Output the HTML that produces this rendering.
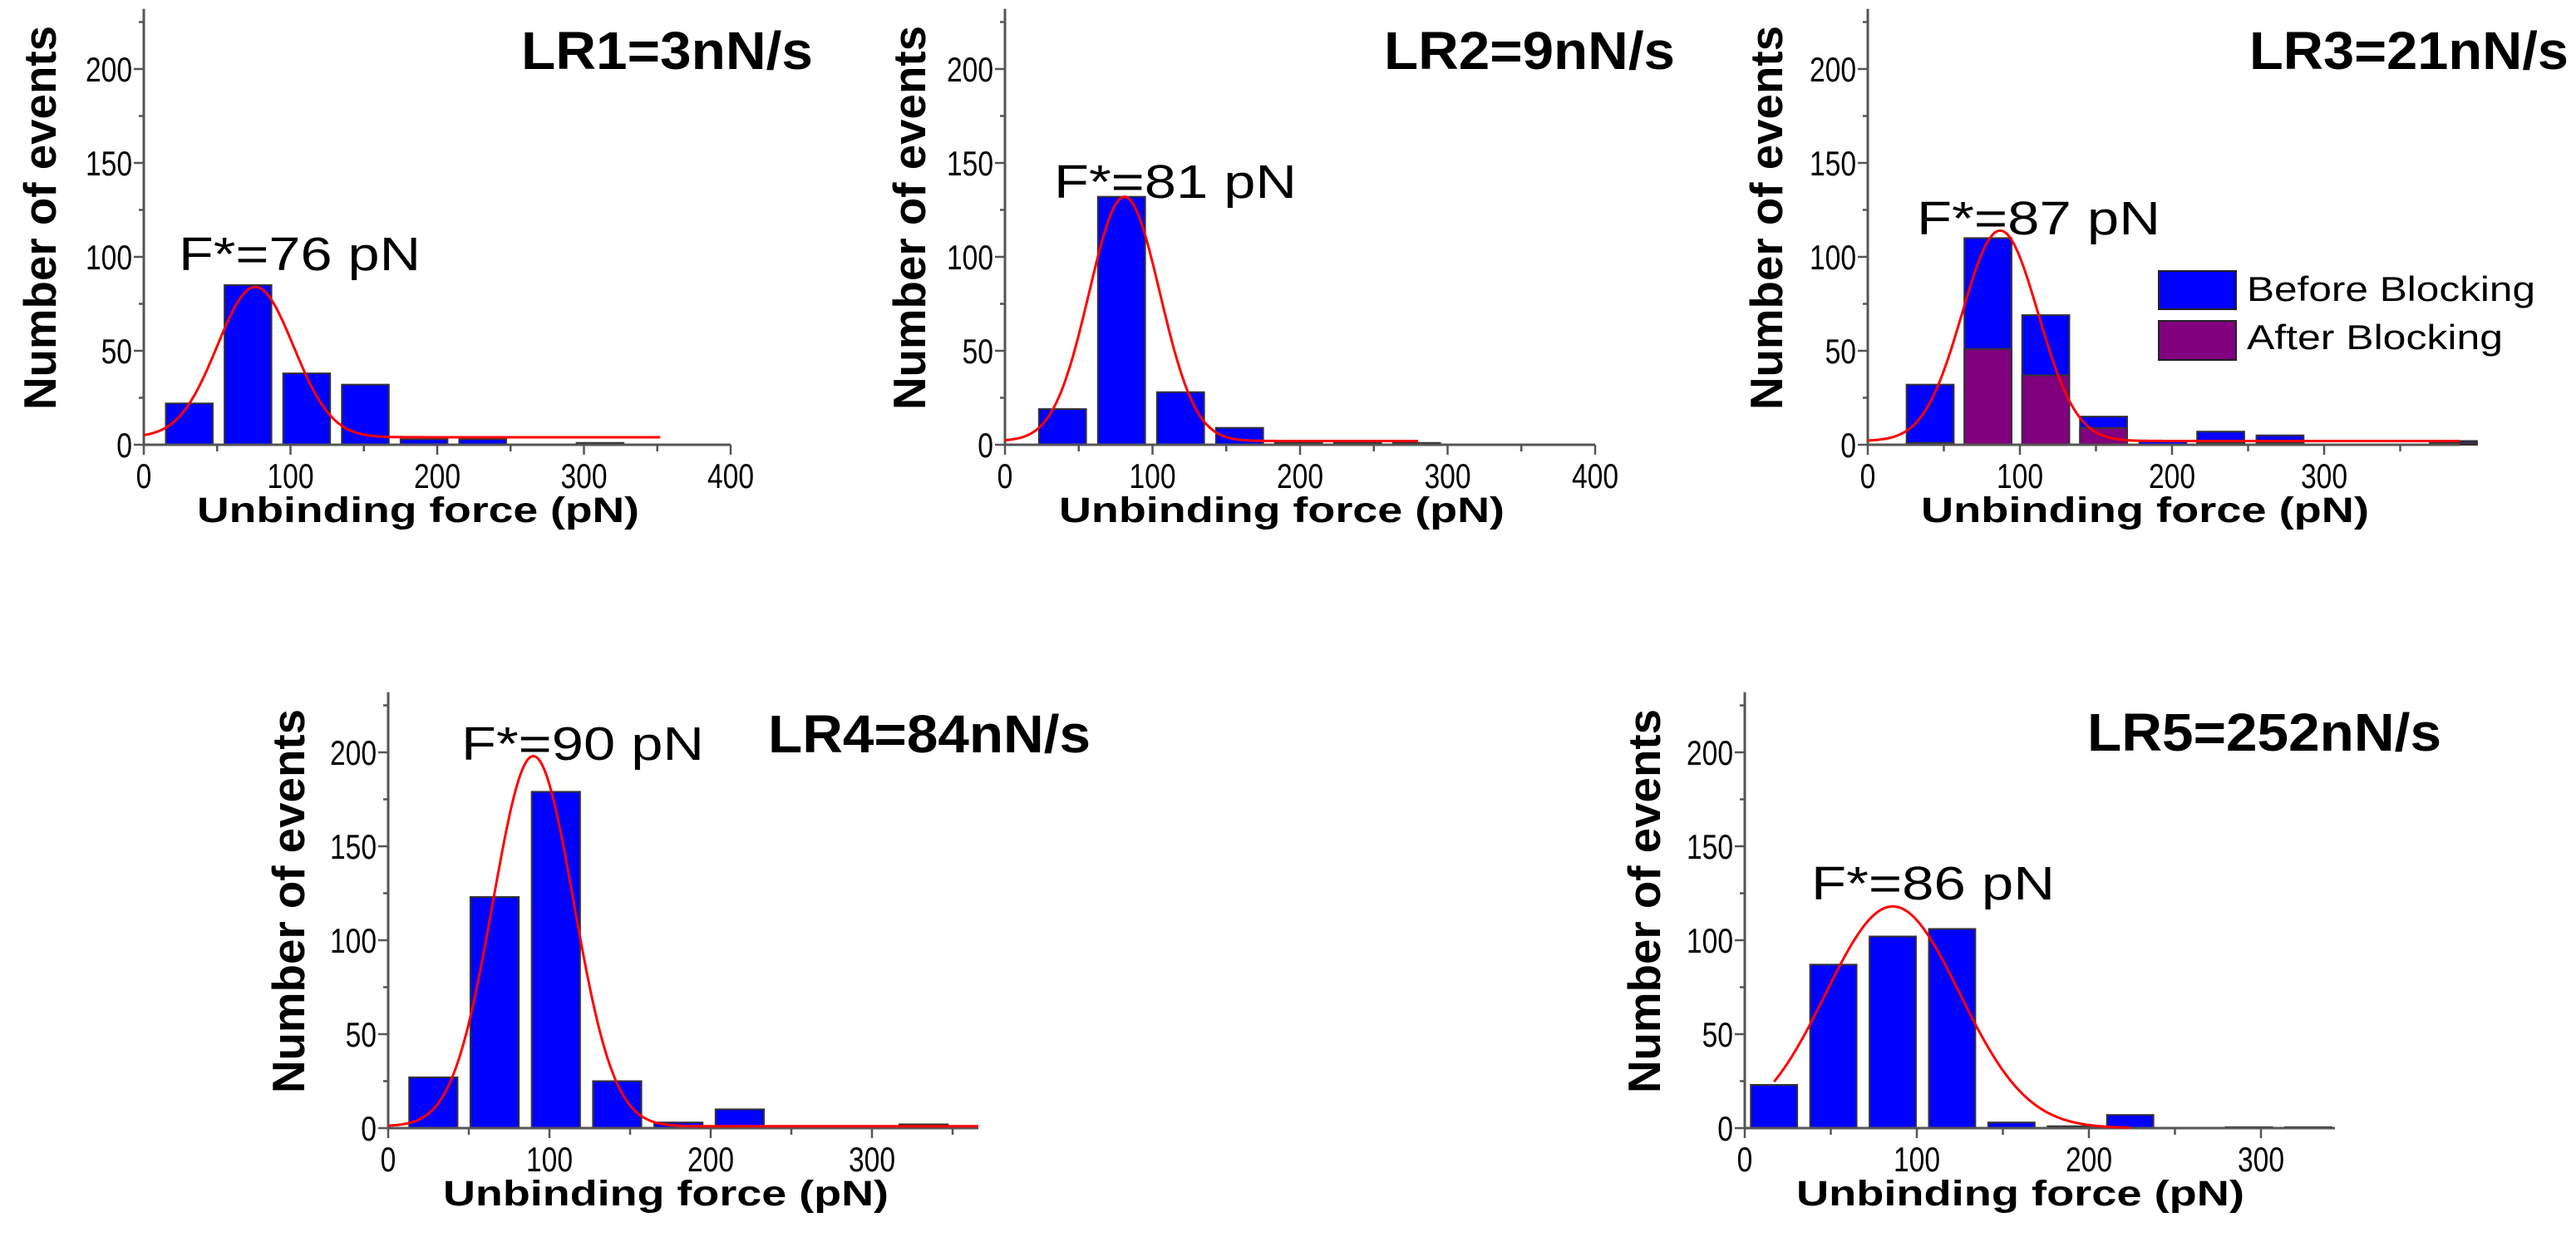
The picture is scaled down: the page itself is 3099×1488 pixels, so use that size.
<!DOCTYPE html>
<html><head><meta charset="utf-8"><style>
html,body{margin:0;padding:0;background:#fff;}
svg{display:block;}
text{font-family:"Liberation Sans",Arial,sans-serif;fill:#000;}
</style></head><body>
<svg id="fig" width="3099" height="1488" viewBox="0 0 3099 1488" xmlns="http://www.w3.org/2000/svg"></svg>
<script>
// ---- data ----
const lr1Centers=[31,71,111,151,191,231,271,311];
const lr1Counts=[22,85,38,32,3,3,0,1];
const lr2Centers=[39,79,119,159,199,239,279];
const lr2Counts=[19,132,28,9,1,1,1];
const lr3Centers=[41,79,117,155,194,232,271,309,347,385];
const lr3Before=[32,110,69,15,2,7,5,0,0,2];
const lr3After=[1,51,37,9,0,1,1,0,0,1];
const lr4Centers=[28,66,104,142,180,218,256,294,332];
const lr4Counts=[27,123,179,25,3,10,0,0,2];
const lr5Centers=[17,51.5,86,120.5,155,189.5,224,258.5,293,327.5];
const lr5Counts=[23,87,102,106,3,1,7,0,0.5,0.5];
// gaussian fit params: [center, amplitude, sigma, baseline, start, end]
const lr1Fit=[76,80,26,4,0,352];
const lr2Fit=[81,130,24,2,0,280];
const lr3Fit=[87,112,25,2,0,389];
const lr4Fit=[90,197,25,1,0,366];
const lr5Fit=[86,118,39,0,17,224];
const yTicks=[0,50,100,150,200];
const xTicks400=[0,100,200,300,400];
const xTicks300=[0,100,200,300];

const NS="http://www.w3.org/2000/svg";
const svg=document.getElementById('fig');
function mk(tag,attrs,parent,txt){const e=document.createElementNS(NS,tag);for(const k in attrs)e.setAttribute(k,attrs[k]);if(txt!==undefined)e.textContent=txt;(parent||svg).appendChild(e);return e;}

function panel(p){
  const g=mk('g',{});
  
  
  const X=v=>p.ox+v*p.sx, Y=v=>p.oy-v*2.26;
  const top=p.oy-232*2.26;
  const w=p.bw*p.sx;
  p.centers.forEach((c,i)=>{
    const v=p.counts[i]; if(v<=0)return;
    const r=mk('rect',{x:X(c)-w/2,y:Y(v),width:w,height:v*2.26,fill:'#0000ff',stroke:'#333','stroke-width':2},g);
    
    
    if(p.after&&p.after[i]>0){
      const a=p.after[i];
      const r2=mk('rect',{x:X(c)-w/2,y:Y(a),width:w,height:a*2.26,fill:'#800080',stroke:'#333','stroke-width':2},g);
      
      
    }
  });
  const ax=mk('path',{d:`M${p.ox},${top}V${p.oy}H${X(p.xmax)}`,fill:'none',stroke:'#555','stroke-width':3},g);
  
  
  for(let v=0;v<=225;v+=25){const maj=v%50===0;mk('line',{x1:p.ox-(maj?12:6),x2:p.ox,y1:Y(v),y2:Y(v),stroke:'#555','stroke-width':2.5},g);}
  yTicks.forEach(v=>{const t=mk('text',{x:0,y:0,'font-size':42,'text-anchor':'end',transform:`translate(${p.ox-14},${Y(v)+15}) scale(0.8,1)`},g,String(v));
    });
  for(let v=0;v<=p.xmax;v+=50){const maj=v%100===0;mk('line',{x1:X(v),x2:X(v),y1:p.oy,y2:p.oy+(maj?12:8),stroke:'#555','stroke-width':2.5},g);}
  p.xticks.forEach(v=>{const t=mk('text',{x:0,y:0,'font-size':42,'text-anchor':'middle',transform:`translate(${X(v)},${p.oy+52}) scale(0.8,1)`},g,String(v));
    });
  const f=p.fit;let d='';
  for(let x=f[4];x<=f[5];x+=1){const y=f[3]+f[1]*Math.exp(-((x-f[0])**2)/(2*f[2]*f[2]));d+=(d?'L':'M')+X(x).toFixed(1)+','+Y(y).toFixed(1);}
  const c=mk('path',{d:d,fill:'none',stroke:'#ff0000','stroke-width':3},g);
  
  
  const tt=mk('text',{x:p.title[1],y:p.title[3],'font-size':64,'font-weight':'bold',textLength:p.title[2]-p.title[1],lengthAdjust:'spacingAndGlyphs'},g,p.title[0]);
  
  const fl=mk('text',{x:p.fl[1],y:p.fl[3],'font-size':57,textLength:p.fl[2]-p.fl[1],lengthAdjust:'spacingAndGlyphs'},g,p.fl[0]);
  
  const yt=mk('text',{x:0,y:0,'font-size':55,'font-weight':'bold',textLength:462,lengthAdjust:'spacingAndGlyphs','text-anchor':'middle',transform:`translate(${p.yt[0]},${p.yt[1]}) rotate(-90)`},g,'Number of events');
  
  const xt=mk('text',{x:p.xt[0],y:p.xt[2],'font-size':43,'font-weight':'bold',textLength:p.xt[1]-p.xt[0],lengthAdjust:'spacingAndGlyphs'},g,'Unbinding force (pN)');
  
  return g;
}

panel({name:'panel-lr1',ox:173,oy:535,sx:1.765,xmax:400,bw:32,centers:lr1Centers,counts:lr1Counts,fit:lr1Fit,xticks:xTicks400,
  title:['LR1=3nN/s',627,978,83],fl:['F*=76 pN',215,506,325],yt:[67,262],xt:[237,769,628]});
panel({name:'panel-lr2',ox:1209,oy:535,sx:1.775,xmax:400,bw:32,centers:lr2Centers,counts:lr2Counts,fit:lr2Fit,xticks:xTicks400,
  title:['LR2=9nN/s',1665,2015,83],fl:['F*=81 pN',1268,1560,238],yt:[1113,262],xt:[1274,1810,628]});
panel({name:'panel-lr3',ox:2247,oy:535,sx:1.83,xmax:389,bw:31,centers:lr3Centers,counts:lr3Before,after:lr3After,fit:lr3Fit,xticks:xTicks300,
  title:['LR3=21nN/s',2706,3090,83],fl:['F*=87 pN',2306,2599,282],yt:[2144,262],xt:[2311,2850,628]});
panel({name:'panel-lr4',ox:467,oy:1357,sx:1.94,xmax:366,bw:30,centers:lr4Centers,counts:lr4Counts,fit:lr4Fit,xticks:xTicks300,
  title:['LR4=84nN/s',924,1312,905],fl:['F*=90 pN',555,847,914],yt:[366,1084],xt:[533,1069,1450]});
panel({name:'panel-lr5',ox:2099,oy:1357,sx:2.07,xmax:343,bw:27,centers:lr5Centers,counts:lr5Counts,fit:lr5Fit,xticks:xTicks300,
  title:['LR5=252nN/s',2511,2937,903],fl:['F*=86 pN',2179,2472,1082],yt:[1997,1084],xt:[2161,2700,1450]});

const lg=mk('g',{});


const l1=mk('rect',{x:2597,y:326,width:93,height:46,fill:'#0000ff',stroke:'#222','stroke-width':2},lg);

const l2=mk('rect',{x:2597,y:386,width:93,height:47,fill:'#800080',stroke:'#222','stroke-width':2},lg);

const t1=mk('text',{x:2703,y:362,'font-size':42,textLength:347,lengthAdjust:'spacingAndGlyphs'},lg,'Before Blocking');

const t2=mk('text',{x:2703,y:420,'font-size':42,textLength:308,lengthAdjust:'spacingAndGlyphs'},lg,'After Blocking');

</script>
</body></html>
